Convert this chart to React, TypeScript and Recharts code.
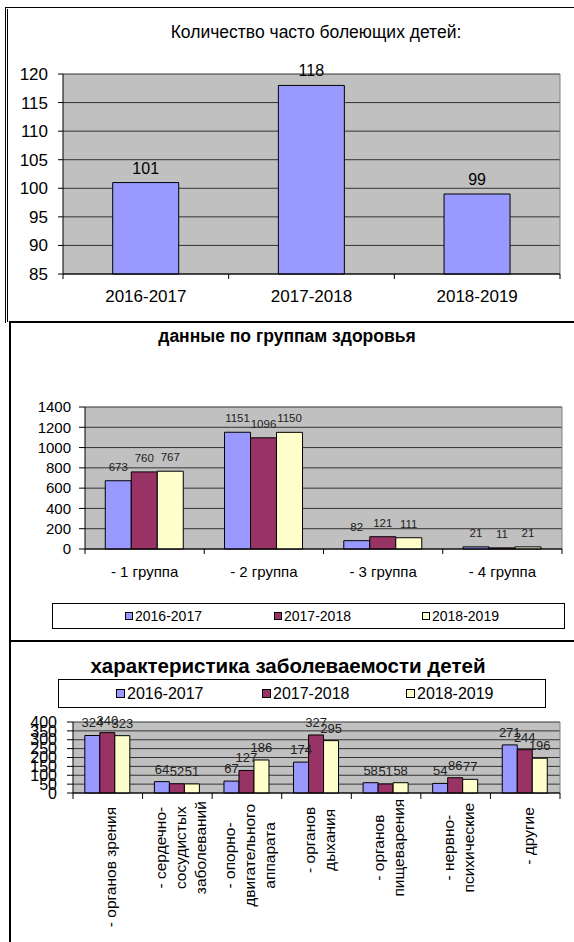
import React from 'react';
import { BarChart, Bar, XAxis, YAxis, CartesianGrid, LabelList, Legend } from 'recharts';

const FONT = '"Liberation Sans", Arial, sans-serif';

// chart 1: часто болеющие дети
const sickYears = ['2016-2017', '2017-2018', '2018-2019'];
const sickCounts = [101, 118, 99];
const sickTicks = [85, 90, 95, 100, 105, 110, 115, 120];

// chart 2: группы здоровья
const healthGroups = ['- 1 группа', '- 2 группа', '- 3 группа', '- 4 группа'];
const health2016 = [673, 1151, 82, 21];
const health2017 = [760, 1096, 121, 11];
const health2018 = [767, 1150, 111, 21];
const healthTicks = [0, 200, 400, 600, 800, 1000, 1200, 1400];

// chart 3: заболеваемость
const diseaseLabels = [
  '- органов зрения',
  '- сердечно-\nсосудистых\nзаболеваний',
  '- опорно-\nдвигательного\nаппарата',
  '- органов\nдыхания',
  '- органов\nпищеварения',
  '- нервно-\nпсихические',
  '- другие',
];
const disease2016 = [324, 64, 67, 174, 58, 54, 271];
const disease2017 = [340, 52, 127, 327, 51, 86, 244];
const disease2018 = [323, 51, 186, 295, 58, 77, 196];
const diseaseTicks = [0, 50, 100, 150, 200, 250, 300, 350, 400];

const seriesNames = ['2016-2017', '2017-2018', '2018-2019'];
const seriesColors = ['#9999FF', '#993366', '#FFFFCC'];

const sickData = sickYears.map((year, i) => ({ year, count: sickCounts[i] }));
const healthData = healthGroups.map((name, i) => ({
  name, a: health2016[i], b: health2017[i], c: health2018[i],
}));
const diseaseData = diseaseLabels.map((name, i) => ({
  name, a: disease2016[i], b: disease2017[i], c: disease2018[i],
}));

const GRID = '#333';
const PLOT_BG = '#C0C0C0';

// tick marks sit between categories, like Excel
const CategoryTick = (props: any) => {
  const { x, y, payload, index, visibleTicksCount, band, fontSize, labelDy } = props;
  const left = x - band / 2;
  return (
    <g>
      <line x1={left} y1={y} x2={left} y2={y + 5} stroke="#000" />
      {index === visibleTicksCount - 1 && (
        <line x1={left + band} y1={y} x2={left + band} y2={y + 5} stroke="#000" />
      )}
      <text x={x} y={y + labelDy} dy="0.35em" textAnchor="middle" fontSize={fontSize}
        fontFamily={FONT} fill="#000">
        {payload.value}
      </text>
    </g>
  );
};

const RotatedTick = (props: any) => {
  const { x, y, payload, index, visibleTicksCount, band } = props;
  const fs = 15.5;
  const lines = String(payload.value).split('\n');
  const maxLen = Math.max(...lines.map((l) => l.length)) * fs * 0.5;
  const cy = y + 12 + maxLen / 2;
  const left = x - band / 2;
  return (
    <g>
      <line x1={left} y1={y} x2={left} y2={y + 6} stroke="#000" />
      {index === visibleTicksCount - 1 && (
        <line x1={left + band} y1={y} x2={left + band} y2={y + 6} stroke="#000" />
      )}
      {lines.map((l, i) => {
        const lx = x + 3 + (i - (lines.length - 1) / 2) * 20;
        return (
          <text key={i} x={lx} y={cy} dy="0.35em" textAnchor="middle" fontSize={fs}
            fontFamily={FONT} fill="#000" transform={`rotate(-90 ${lx} ${cy})`}>
            {l}
          </text>
        );
      })}
    </g>
  );
};

const BoxLegend = ({ fontSize, swatch, itemLefts }: any) => (
  <div style={{
    position: 'relative', width: '100%', height: '100%', border: '1px solid #000',
    boxSizing: 'border-box', background: '#fff', fontFamily: FONT,
  }}>
    {seriesNames.map((n, i) => (
      <div key={n} style={{
        position: 'absolute', left: itemLefts[i], top: '50%', transform: 'translateY(-50%)',
        display: 'flex', alignItems: 'center', fontSize, color: '#000', whiteSpace: 'nowrap',
      }}>
        <span style={{
          display: 'inline-block', width: swatch, height: swatch, background: seriesColors[i],
          border: '1px solid #000', marginRight: 2, boxSizing: 'border-box',
        }} />
        {n}
      </div>
    ))}
  </div>
);

const rightBorder = ({ offset }: any) => [offset.left + offset.width];

const line = (style: React.CSSProperties) => (
  <div style={{ position: 'absolute', background: '#000', ...style }} />
);

export default function App() {
  const w = 574;
  return (
    <div style={{
      position: 'absolute', left: 0, top: 0, width: w, height: 942, background: '#fff',
      fontFamily: FONT, overflow: 'hidden',
    }}>
      {/* frames */}
      {line({ left: 5, top: 7, width: w, height: 1 })}
      {line({ left: 5, top: 7, width: 1, height: 316 })}
      {line({ left: 7, top: 9, width: 1, height: 313 })}
      {line({ left: 9, top: 321, width: w, height: 2 })}
      {line({ left: 9, top: 321, width: 2, height: 320 })}
      {line({ left: 9, top: 640, width: w, height: 2 })}
      {line({ left: 9, top: 640, width: 2, height: 302 })}

      {/* titles */}
      <div style={{ position: 'absolute', left: 116, width: 400, top: 22, textAlign: 'center', fontSize: 17.5 }}>
        Количество часто болеющих детей:
      </div>
      <div style={{ position: 'absolute', left: 87, width: 400, top: 326, textAlign: 'center', fontSize: 17.5, fontWeight: 'bold' }}>
        данные по группам здоровья
      </div>
      <div style={{ position: 'absolute', left: 38, width: 500, top: 654, textAlign: 'center', fontSize: 20.5, fontWeight: 'bold' }}>
        характеристика заболеваемости детей
      </div>

      {/* chart 1 */}
      <div style={{ position: 'absolute', left: 0, top: 0 }}>
        <BarChart width={w} height={322} data={sickData} barCategoryGap="30%"
          margin={{ top: 74, right: 14, left: 0, bottom: 18 }}>
          <CartesianGrid vertical={false} fill={PLOT_BG} stroke={GRID} fillOpacity={1} />
          <CartesianGrid horizontal={false} verticalCoordinatesGenerator={rightBorder} stroke="#808080" />
          <XAxis dataKey="year" height={30} interval={0} tickSize={0} tickMargin={0} tickLine={false}
            axisLine={{ stroke: '#000' }}
            tick={(p: any) => <CategoryTick {...p} band={(w - 63 - 14) / 3} fontSize={17} labelDy={22} />} />
          <YAxis width={63} domain={[85, 120]} ticks={sickTicks} interval={0} tickSize={5} tickMargin={10}
            axisLine={{ stroke: '#000' }} tickLine={{ stroke: '#000' }}
            tick={{ fill: '#000', fontSize: 17, fontFamily: FONT }} />
          <Bar dataKey="count" fill={seriesColors[0]} stroke="#000" strokeWidth={1} isAnimationActive={false}>
            <LabelList dataKey="count" position="top" offset={9} fill="#000" fontSize={16} fontFamily={FONT} />
          </Bar>
        </BarChart>
      </div>

      {/* chart 2 */}
      <div style={{ position: 'absolute', left: 0, top: 322 }}>
        <BarChart width={w} height={318} data={healthData} barCategoryGap="17%" barGap={0}
          margin={{ top: 85, right: 12, left: 0, bottom: 51 }}>
          <CartesianGrid vertical={false} fill={PLOT_BG} stroke={GRID} fillOpacity={1} />
          <CartesianGrid horizontal={false} verticalCoordinatesGenerator={rightBorder} stroke="#808080" />
          <XAxis dataKey="name" height={40} interval={0} tickSize={0} tickMargin={0} tickLine={false}
            axisLine={{ stroke: '#000' }}
            tick={(p: any) => <CategoryTick {...p} band={(w - 85 - 12) / 4} fontSize={15} labelDy={23} />} />
          <YAxis width={85} domain={[0, 1400]} ticks={healthTicks} interval={0} tickSize={6} tickMargin={8}
            axisLine={{ stroke: '#000' }} tickLine={{ stroke: '#000' }}
            tick={{ fill: '#000', fontSize: 15, fontFamily: FONT }} />
          <Legend verticalAlign="middle" align="center" layout="horizontal" width={513} height={26}
            wrapperStyle={{ left: 52, top: 281 }}
            content={() => <BoxLegend fontSize={14} swatch={8} itemLefts={[72, 221, 369]} />} />
          {(['a', 'b', 'c'] as const).map((k, i) => (
            <Bar key={k} dataKey={k} name={seriesNames[i]} fill={seriesColors[i]} stroke="#000"
              strokeWidth={1} isAnimationActive={false}>
              <LabelList dataKey={k} position="top" offset={10} fill="#222" fontSize={11.5} fontFamily={FONT} />
            </Bar>
          ))}
        </BarChart>
      </div>

      {/* chart 3 */}
      <div style={{ position: 'absolute', left: 0, top: 640 }}>
        <BarChart width={w} height={302} data={diseaseData} barCategoryGap="17%" barGap={0}
          margin={{ top: 82, right: 14, left: 0, bottom: 9 }}>
          <CartesianGrid vertical={false} fill={PLOT_BG} stroke={GRID} fillOpacity={1} />
          <CartesianGrid horizontal={false} verticalCoordinatesGenerator={rightBorder} stroke="#808080" />
          <XAxis dataKey="name" height={140} interval={0} tickSize={0} tickMargin={0} tickLine={false}
            axisLine={{ stroke: '#000' }}
            tick={(p: any) => <RotatedTick {...p} band={(w - 73 - 14) / 7} />} />
          <YAxis width={73} domain={[0, 400]} ticks={diseaseTicks} interval={0} tickSize={6} tickMargin={10}
            axisLine={{ stroke: '#000' }} tickLine={{ stroke: '#000' }}
            tick={{ fill: '#000', fontSize: 16, fontFamily: FONT }} />
          <Legend verticalAlign="middle" align="center" layout="horizontal" width={488} height={29}
            wrapperStyle={{ left: 58, top: 39 }}
            content={() => <BoxLegend fontSize={16} swatch={9} itemLefts={[57, 203, 347]} />} />
          {(['a', 'b', 'c'] as const).map((k, i) => (
            <Bar key={k} dataKey={k} name={seriesNames[i]} fill={seriesColors[i]} stroke="#000"
              strokeWidth={1} isAnimationActive={false}>
              <LabelList dataKey={k} position="top" offset={8} fill="#222" fontSize={13} fontFamily={FONT} />
            </Bar>
          ))}
        </BarChart>
      </div>
    </div>
  );
}
